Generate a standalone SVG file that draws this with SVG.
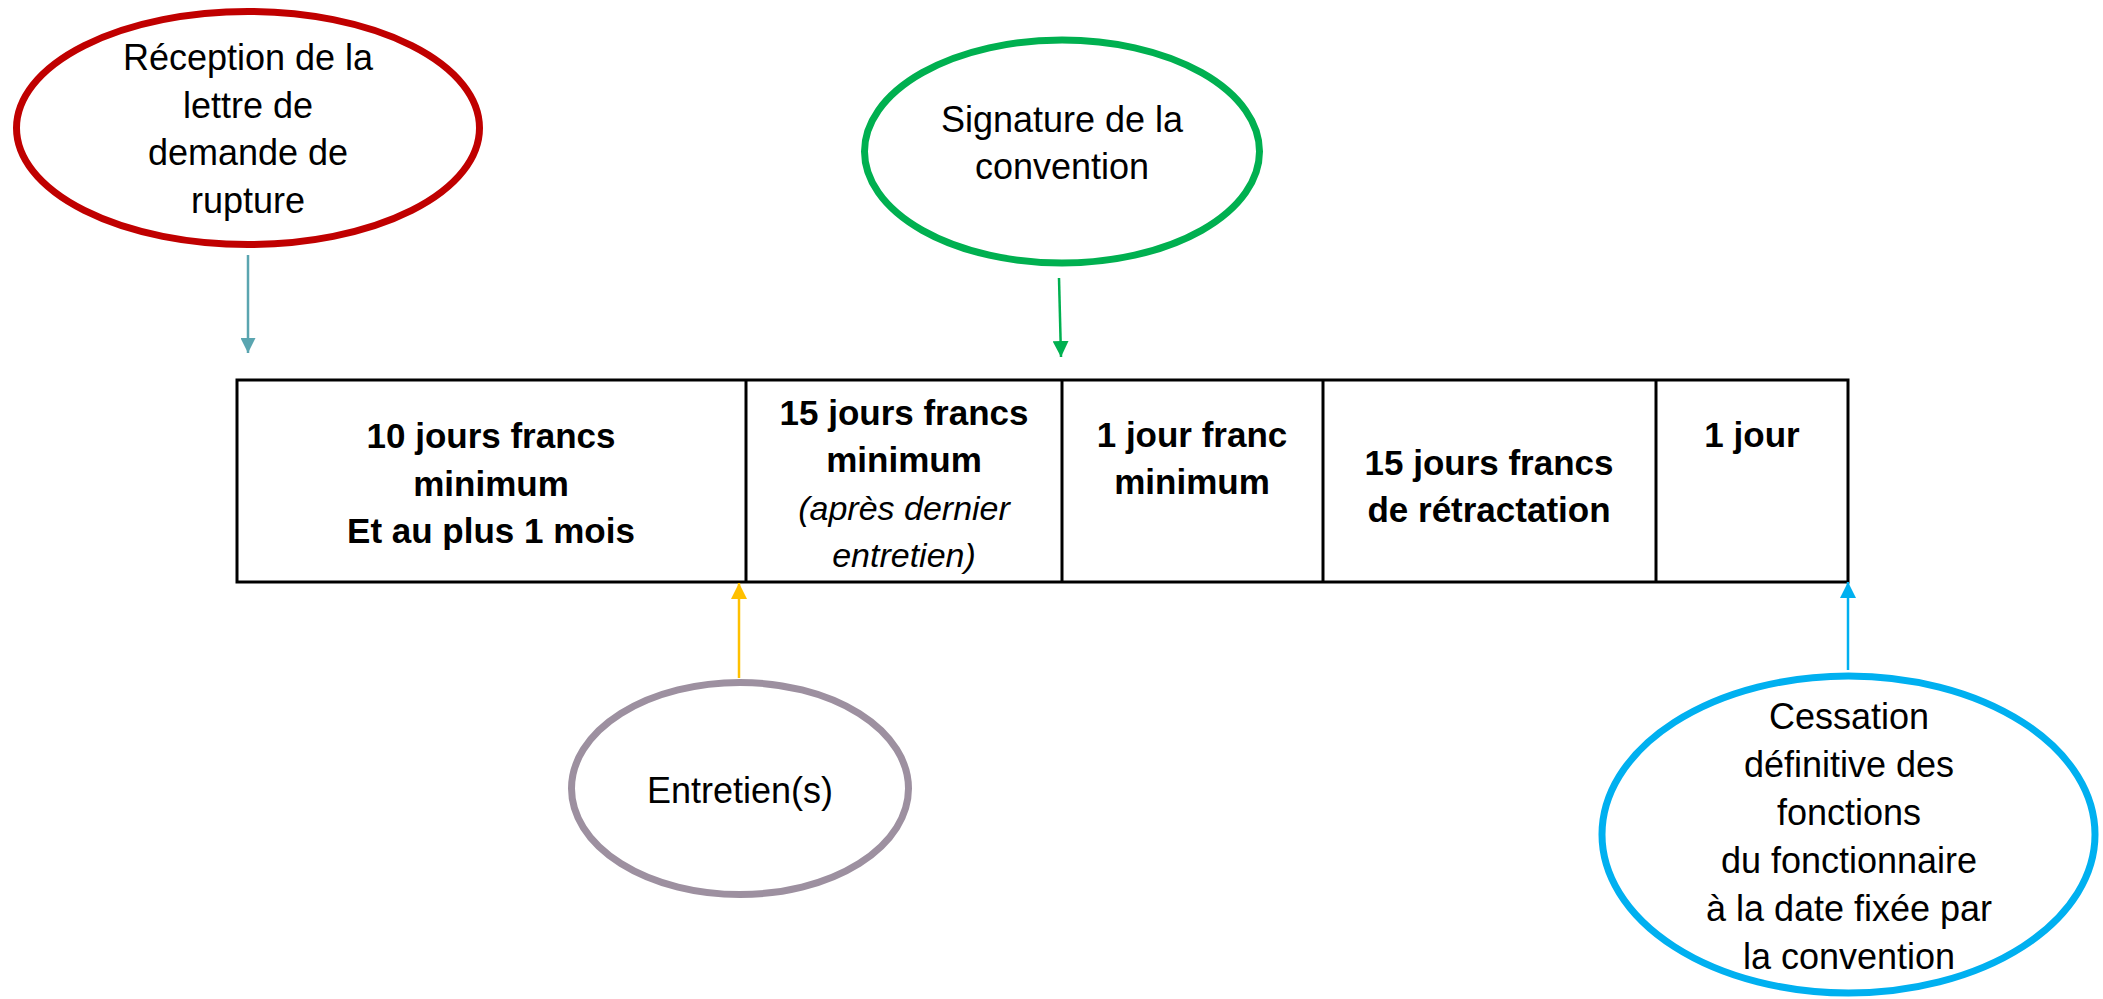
<svg xmlns="http://www.w3.org/2000/svg" width="2103" height="999" viewBox="0 0 2103 999">
<style>
.t{font-family:"Liberation Sans",Arial,sans-serif;font-size:36px;fill:#000;text-anchor:middle}
.b{font-family:"Liberation Sans",Arial,sans-serif;font-size:35px;font-weight:bold;fill:#000;text-anchor:middle}
.i{font-family:"Liberation Sans",Arial,sans-serif;font-size:34px;font-style:italic;fill:#000;text-anchor:middle}
.ell{fill:#fff;stroke-width:7}
.grid{fill:none;stroke:#000;stroke-width:3}
.arr{fill:none;stroke-width:2.5}
</style>
<defs>
<marker id="mTeal" viewBox="0 0 16 16" refX="16" refY="8" markerWidth="16" markerHeight="15" markerUnits="userSpaceOnUse" orient="auto"><path d="M0,0 L16,8 L0,16 z" fill="#5AA5B0"/></marker>
<marker id="mGreen" viewBox="0 0 16 16" refX="16" refY="8" markerWidth="16" markerHeight="16" markerUnits="userSpaceOnUse" orient="auto"><path d="M0,0 L16,8 L0,16 z" fill="#00B050"/></marker>
<marker id="mYellow" viewBox="0 0 16 16" refX="16" refY="8" markerWidth="16" markerHeight="16" markerUnits="userSpaceOnUse" orient="auto"><path d="M0,0 L16,8 L0,16 z" fill="#FFC000"/></marker>
<marker id="mBlue" viewBox="0 0 16 16" refX="16" refY="8" markerWidth="16" markerHeight="16" markerUnits="userSpaceOnUse" orient="auto"><path d="M0,0 L16,8 L0,16 z" fill="#00B0F0"/></marker>
</defs>
<rect width="2103" height="999" fill="#fff"/>

<g id="timeline">
<rect class="grid" x="237" y="380" width="1611" height="202"/>
<line class="grid" x1="746" y1="380" x2="746" y2="582"/>
<line class="grid" x1="1062" y1="380" x2="1062" y2="582"/>
<line class="grid" x1="1323" y1="380" x2="1323" y2="582"/>
<line class="grid" x1="1656" y1="380" x2="1656" y2="582"/>
</g>
<g id="periode1">
<text class="b" x="491" y="448">10 jours francs</text>
<text class="b" x="491" y="496">minimum</text>
<text class="b" x="491" y="543">Et au plus 1 mois</text>
</g>
<g id="periode2">
<text class="b" x="904" y="425">15 jours francs</text>
<text class="b" x="904" y="472">minimum</text>
<text class="i" x="904" y="520">(après dernier</text>
<text class="i" x="904" y="567">entretien)</text>
</g>
<g id="periode3">
<text class="b" x="1192" y="447">1 jour franc</text>
<text class="b" x="1192" y="494">minimum</text>
</g>
<g id="periode4">
<text class="b" x="1489" y="475">15 jours francs</text>
<text class="b" x="1489" y="522">de rétractation</text>
</g>
<g id="periode5">
<text class="b" x="1752" y="447">1 jour</text>
</g>

<g id="reception">
<ellipse class="ell" cx="248" cy="128" rx="231.5" ry="116.5" stroke="#C00000"/>
<text class="t" x="248" y="70">Réception de la</text>
<text class="t" x="248" y="118">lettre de</text>
<text class="t" x="248" y="165">demande de</text>
<text class="t" x="248" y="213">rupture</text>
</g>
<g id="signature">
<ellipse class="ell" cx="1062" cy="151.5" rx="197.5" ry="111.5" stroke="#00B050"/>
<text class="t" x="1062" y="132">Signature de la</text>
<text class="t" x="1062" y="179">convention</text>
</g>
<g id="entretiens">
<ellipse class="ell" cx="740" cy="788.5" rx="168.5" ry="106" stroke="#9D90A0"/>
<text class="t" x="740" y="803">Entretien(s)</text>
</g>
<g id="cessation">
<ellipse class="ell" cx="1848.5" cy="834.5" rx="246.5" ry="158.5" stroke="#00B0F0" stroke-width="8"/>
<text class="t" x="1849" y="729">Cessation</text>
<text class="t" x="1849" y="777">définitive des</text>
<text class="t" x="1849" y="825">fonctions</text>
<text class="t" x="1849" y="873">du fonctionnaire</text>
<text class="t" x="1849" y="921">à la date fixée par</text>
<text class="t" x="1849" y="969">la convention</text>
</g>

<g id="connectors">
<line class="arr" x1="248" y1="255" x2="248" y2="353" stroke="#5AA5B0" marker-end="url(#mTeal)"/>
<line class="arr" x1="1059" y1="278" x2="1061" y2="357" stroke="#00B050" marker-end="url(#mGreen)"/>
<line class="arr" x1="739" y1="678" x2="739" y2="583" stroke="#FFC000" marker-end="url(#mYellow)"/>
<line class="arr" x1="1848" y1="670" x2="1848" y2="582" stroke="#00B0F0" marker-end="url(#mBlue)"/>
</g>
</svg>
